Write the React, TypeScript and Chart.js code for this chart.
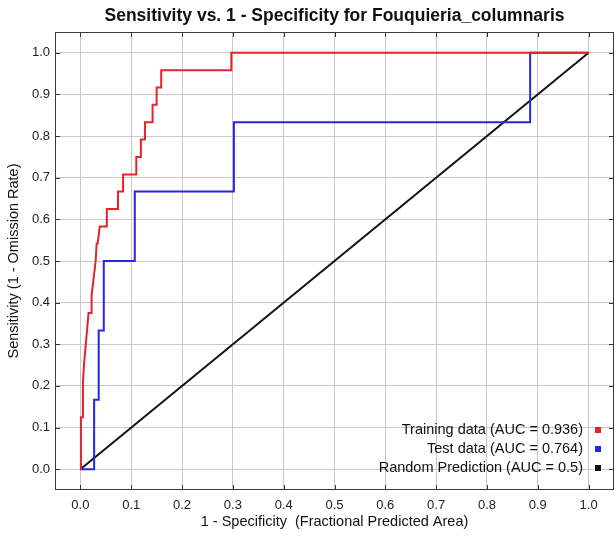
import React, { useEffect, useRef } from "react";
import { Chart, registerables } from "chart.js";

Chart.register(...registerables);

const TITLE = "Sensitivity vs. 1 - Specificity for Fouquieria_columnaris";
const X_TITLE = "1 - Specificity  (Fractional Predicted Area)";
const Y_TITLE = "Sensitivity (1 - Omission Rate)";
const SERIES_LABELS = [
  "Training data (AUC = 0.936)",
  "Test data (AUC = 0.764)",
  "Random Prediction (AUC = 0.5)",
];
const SERIES_COLORS = ["#e8222a", "#2626e6", "#111111"];
const TICKS = [0, 0.1, 0.2, 0.3, 0.4, 0.5, 0.6, 0.7, 0.8, 0.9, 1.0];

const TRAIN_X = [0, 0.001, 0.001, 0.004, 0.005, 0.007, 0.010, 0.013, 0.016, 0.021, 0.022, 0.026, 0.030, 0.032, 0.034, 0.038, 0.052, 0.052, 0.074, 0.074, 0.084, 0.084, 0.110, 0.110, 0.119, 0.119, 0.127, 0.127, 0.142, 0.142, 0.150, 0.150, 0.159, 0.159, 0.297, 0.297, 1.0];
const TRAIN_Y = [0, 0.042, 0.125, 0.125, 0.208, 0.25, 0.292, 0.333, 0.375, 0.375, 0.417, 0.458, 0.5, 0.542, 0.542, 0.583, 0.583, 0.625, 0.625, 0.667, 0.667, 0.708, 0.708, 0.75, 0.75, 0.792, 0.792, 0.833, 0.833, 0.875, 0.875, 0.917, 0.917, 0.958, 0.958, 1.0, 1.0];

const TEST_X = [0, 0.027, 0.027, 0.036, 0.036, 0.046, 0.046, 0.107, 0.107, 0.302, 0.302, 0.885, 0.885, 1.0];
const TEST_Y = [0, 0, 0.167, 0.167, 0.333, 0.333, 0.5, 0.5, 0.667, 0.667, 0.833, 0.833, 1.0, 1.0];

const RANDOM_X = [0, 1];
const RANDOM_Y = [0, 1];

const FONT = "'Liberation Sans', Arial, Helvetica, sans-serif";

const toPoints = (xs: number[], ys: number[]) => xs.map((x, i) => ({ x, y: ys[i] }));

const framePlugin = {
  id: "frameAndLegend",
  afterDatasetsDraw(chart: any) {
    const { ctx, chartArea } = chart;
    const { left, right, top, bottom } = chartArea;
    const xs = chart.scales.x;
    const ys = chart.scales.y;
    ctx.save();
    ctx.strokeStyle = "#333";
    ctx.lineWidth = 1;
    ctx.beginPath();
    TICKS.forEach((v) => {
      const px = Math.round(xs.getPixelForValue(v)) + 0.5;
      ctx.moveTo(px, bottom);
      ctx.lineTo(px, bottom - 5);
      ctx.moveTo(px, top);
      ctx.lineTo(px, top + 5);
      const py = Math.round(ys.getPixelForValue(v)) + 0.5;
      ctx.moveTo(left, py);
      ctx.lineTo(left + 5, py);
      ctx.moveTo(right, py);
      ctx.lineTo(right - 5, py);
    });
    ctx.stroke();
    ctx.strokeStyle = "#3a3a3a";
    ctx.strokeRect(Math.round(left) + 0.5, Math.round(top) + 0.5, Math.round(right - left) - 1, Math.round(bottom - top) - 1);
    ctx.restore();
  },
  afterDraw(chart: any) {
    const { ctx, chartArea } = chart;
    const datasets = chart.data.datasets;
    const n = datasets.length;
    ctx.save();
    ctx.font = `14.5px ${FONT}`;
    ctx.textAlign = "right";
    ctx.textBaseline = "middle";
    datasets.forEach((ds: any, i: number) => {
      const y = chartArea.bottom - 22 - (n - 1 - i) * 19;
      ctx.fillStyle = "#111";
      ctx.fillText(ds.label, chartArea.right - 31, y);
      ctx.fillStyle = ds.borderColor;
      ctx.fillRect(chartArea.right - 19, y - 3, 6, 6);
    });
    ctx.restore();
  },
};

export default function App() {
  const canvasRef = useRef<HTMLCanvasElement | null>(null);

  useEffect(() => {
    document.body.style.margin = "0";
    const canvas = canvasRef.current;
    if (!canvas) return;
    const tickFont = { family: FONT, size: 13 };
    const titleFont = { family: FONT, size: 14.5 };
    const makeDs = (i: number, xs: number[], ys: number[]) => ({
      label: SERIES_LABELS[i],
      data: toPoints(xs, ys),
      borderColor: SERIES_COLORS[i],
      backgroundColor: SERIES_COLORS[i],
      borderWidth: 2,
      pointRadius: 0,
      tension: 0,
      fill: false,
    });
    const chart = new Chart(canvas, {
      type: "line",
      data: {
        datasets: [
          makeDs(0, TRAIN_X, TRAIN_Y),
          makeDs(1, TEST_X, TEST_Y),
          makeDs(2, RANDOM_X, RANDOM_Y),
        ],
      },
      options: {
        responsive: false,
        animation: false,
        devicePixelRatio: 1,
        layout: { padding: { left: 0, right: 2, top: 0, bottom: 0 } },
        plugins: {
          legend: { display: false },
          tooltip: { enabled: false },
          title: {
            display: true,
            text: TITLE,
            fullSize: false,
            color: "#111",
            font: { family: FONT, size: 17.5, weight: "bold", lineHeight: 1.2 },
            padding: { top: 6, bottom: 5 },
          },
        },
        scales: {
          x: {
            type: "linear",
            min: -0.05,
            max: 1.05,
            afterBuildTicks: (s: any) => {
              s.ticks = TICKS.map((v) => ({ value: v }));
            },
            afterFit: (s: any) => {
              s.height = 47;
            },
            ticks: {
              callback: (v: any) => Number(v).toFixed(1),
              font: tickFont,
              color: "#222",
              padding: 8,
              maxRotation: 0,
              autoSkip: false,
            },
            grid: { color: "#c9c9c9", drawTicks: false, lineWidth: 1 },
            border: { display: false },
            title: {
              display: true,
              text: X_TITLE,
              color: "#111",
              font: titleFont,
              padding: { top: 4, bottom: 6 },
            },
          },
          y: {
            type: "linear",
            min: -0.05,
            max: 1.05,
            afterBuildTicks: (s: any) => {
              s.ticks = TICKS.map((v) => ({ value: v }));
            },
            afterFit: (s: any) => {
              s.width = 55;
            },
            ticks: {
              callback: (v: any) => Number(v).toFixed(1),
              font: tickFont,
              color: "#222",
              padding: 5,
              autoSkip: false,
            },
            grid: { color: "#c9c9c9", drawTicks: false, lineWidth: 1 },
            border: { display: false },
            title: {
              display: true,
              text: Y_TITLE,
              color: "#111",
              font: titleFont,
              padding: { top: 5, bottom: 4 },
            },
          },
        },
      },
      plugins: [framePlugin],
    } as any);
    return () => chart.destroy();
  }, []);

  return (
    <div style={{ width: 616, height: 537, background: "#fff" }}>
      <canvas ref={canvasRef} width={616} height={537} style={{ display: "block" }} />
    </div>
  );
}
